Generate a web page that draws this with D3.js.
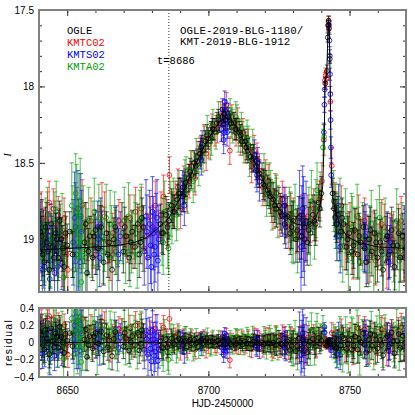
<!DOCTYPE html>
<html><head><meta charset="utf-8">
<script src="https://cdn.jsdelivr.net/npm/d3@7"></script>
<style>body{margin:0;background:#fff}svg{display:block}</style>
</head><body>
<svg id="c" width="415" height="415"></svg>
<script>
// ---- data: [HJD-2450000, I mag, error] ----
const kmtc = [
[8640.3,18.90,0.14],[8641.2,18.86,0.12],[8642.1,19.02,0.13],[8643.0,18.84,0.15],[8644.2,18.95,0.12],
[8645.1,18.80,0.13],[8646.3,19.08,0.14],[8647.2,18.92,0.12],[8648.4,19.15,0.16],[8649.3,18.98,0.13],
[8650.2,19.20,0.15],[8652.3,18.95,0.15],[8653.4,18.82,0.16],[8654.2,19.05,0.14],[8655.3,18.78,0.17],
[8657.2,19.00,0.14],[8658.4,18.88,0.15],[8660.1,19.10,0.13],[8661.3,18.92,0.14],[8663.2,18.85,0.16],
[8664.4,19.02,0.14],[8666.1,18.96,0.13],[8667.3,19.08,0.15],[8669.2,18.90,0.14],[8670.4,18.98,0.12],
[8672.2,18.86,0.15],[8673.3,19.05,0.14],[8675.1,18.92,0.13],[8676.3,18.80,0.14],[8678.2,18.98,0.15],
[8679.4,18.85,0.13],[8681.2,18.78,0.16],[8682.3,18.96,0.15],[8684.1,18.72,0.14],[8685.3,18.90,0.16],
[8686.2,18.58,0.12],[8687.3,18.80,0.11],[8688.2,18.72,0.10],[8690.1,18.80,0.13],[8691.3,18.62,0.10],
[8692.2,18.70,0.12],[8694.1,18.52,0.10],[8695.3,18.60,0.11],[8697.2,18.42,0.09],[8698.4,18.35,0.10],
[8700.1,18.38,0.09],[8701.3,18.26,0.08],[8703.2,18.28,0.09],[8704.4,18.18,0.08],[8705.3,18.25,0.10],
[8706.4,18.12,0.08],[8707.6,18.42,0.09],[8708.3,18.20,0.08],[8709.2,18.26,0.09],[8710.4,18.22,0.08],
[8711.3,18.35,0.10],[8712.2,18.30,0.09],[8714.1,18.38,0.10],[8715.3,18.52,0.11],[8716.2,18.42,0.10],
[8718.1,18.55,0.11],[8719.3,18.66,0.12],[8721.2,18.62,0.11],[8722.4,18.76,0.13],[8724.1,18.70,0.12],
[8725.3,18.85,0.13],[8727.2,18.78,0.12],[8728.3,18.92,0.14],[8730.1,18.86,0.13],[8731.3,18.95,0.14],
[8733.2,18.84,0.13],[8734.4,19.00,0.15],[8736.1,18.88,0.14],[8737.3,18.80,0.13],[8738.2,18.86,0.15],
[8739.4,18.74,0.12],[8740.2,18.62,0.12],[8740.9,18.35,0.10],[8741.3,17.96,0.05],[8741.5,17.93,0.05],
[8741.8,17.95,0.05],[8742.5,17.60,0.04],[8742.6,17.58,0.04],[8743.2,18.10,0.06],[8743.7,18.52,0.12],
[8745.2,18.82,0.13],[8746.3,18.95,0.14],[8747.1,18.78,0.13],[8748.4,19.05,0.15],[8750.2,18.90,0.14],
[8751.3,19.10,0.16],[8752.2,18.95,0.15],[8754.1,19.02,0.14],[8755.3,18.88,0.15],[8757.2,19.12,0.16],
[8758.3,18.96,0.14],[8760.1,19.05,0.15],[8761.4,18.90,0.16],[8763.2,19.15,0.17],[8764.3,18.98,0.15],
[8766.1,19.08,0.16],[8767.3,18.92,0.15],[8769.2,19.10,0.17],
[8640.8,18.82,0.13],[8641.7,18.94,0.14],[8642.6,18.88,0.12],[8643.6,18.76,0.14],[8644.7,19.06,0.13],
[8645.7,18.90,0.15],[8646.8,18.84,0.12],[8647.8,19.00,0.14],[8648.9,18.86,0.13],[8649.8,19.10,0.15],
[8656.3,18.92,0.16],[8659.2,19.04,0.15],[8662.3,18.80,0.17],[8665.2,19.12,0.15],[8668.3,18.88,0.14],
[8671.3,19.00,0.15],[8674.2,18.82,0.16],[8677.2,19.06,0.15],[8680.3,18.92,0.14],[8683.2,18.84,0.15],
[8689.2,18.66,0.12],[8693.2,18.62,0.11],[8696.3,18.46,0.10],[8699.2,18.44,0.11],[8702.3,18.30,0.09],
[8705.9,18.20,0.09],[8709.8,18.30,0.09],[8713.2,18.40,0.10],[8717.2,18.48,0.11],[8720.3,18.60,0.12],
[8723.2,18.80,0.13],[8726.2,18.74,0.12],[8729.2,18.84,0.14],[8732.2,18.98,0.15],[8735.2,18.85,0.14],
[8744.8,18.76,0.13],[8749.3,18.98,0.15],[8753.2,18.86,0.15],[8756.2,19.00,0.16],[8759.2,19.14,0.16],
[8762.3,18.92,0.15],[8765.2,19.00,0.16],[8768.3,18.88,0.16]
];
const kmts = [
[8640.4,19.02,0.16],[8640.9,19.12,0.15],[8641.5,18.95,0.14],[8642.0,19.18,0.17],[8642.6,19.05,0.15],
[8643.4,18.98,0.16],[8644.0,19.14,0.18],[8644.7,19.00,0.15],[8645.5,19.22,0.17],[8646.2,19.08,0.16],
[8647.0,18.96,0.15],[8648.1,19.16,0.17],[8652.1,19.02,0.28],[8652.6,18.86,0.30],[8653.2,19.10,0.26],
[8653.8,18.80,0.25],[8654.5,19.15,0.30],[8655.1,18.95,0.27],[8660.2,19.05,0.18],[8660.8,18.92,0.17],
[8661.5,19.12,0.19],[8662.2,18.98,0.16],[8667.4,18.94,0.16],[8668.1,19.10,0.17],[8668.8,18.98,0.16],
[8677.3,19.08,0.22],[8677.9,18.85,0.24],[8678.6,19.12,0.25],[8679.2,18.90,0.22],[8679.8,19.18,0.26],
[8680.5,18.96,0.24],[8681.1,19.05,0.23],[8681.8,18.86,0.25],[8682.4,19.00,0.22],[8690.3,18.72,0.12],
[8690.9,18.66,0.11],[8691.5,18.78,0.13],[8697.2,18.44,0.10],[8697.8,18.38,0.09],[8704.6,18.28,0.08],
[8705.0,18.15,0.07],[8705.4,18.35,0.09],[8705.8,18.10,0.07],[8706.2,18.22,0.08],[8706.6,18.30,0.09],
[8707.0,18.18,0.07],[8716.3,18.45,0.10],[8716.9,18.55,0.11],[8717.5,18.50,0.10],[8718.1,18.62,0.13],
[8726.2,18.85,0.13],[8726.8,18.78,0.12],[8727.4,18.92,0.14],[8732.3,18.85,0.30],[8732.8,19.05,0.32],
[8733.4,18.80,0.28],[8734.0,19.00,0.30],[8734.6,18.88,0.26],[8740.9,18.30,0.06],[8741.1,18.12,0.05],
[8741.2,18.02,0.05],[8742.7,17.60,0.03],[8742.9,17.70,0.04],[8743.0,17.80,0.04],[8743.1,17.92,0.04],
[8743.2,18.05,0.05],[8743.3,18.22,0.06],[8743.4,18.40,0.07],[8743.5,18.58,0.08],[8745.0,18.85,0.15],
[8745.5,18.98,0.16],[8746.1,18.78,0.14],[8746.7,19.05,0.17],[8755.2,19.05,0.16],[8755.8,18.92,0.15],
[8756.4,19.12,0.17],[8763.3,18.98,0.16],[8763.9,19.15,0.18],[8764.5,19.02,0.16],[8769.4,18.95,0.17],
[8640.6,18.90,0.16],[8641.2,19.20,0.17],[8641.8,19.06,0.15],[8643.0,18.92,0.16],[8643.8,19.26,0.18],
[8645.0,19.04,0.16],[8645.9,18.94,0.15],[8646.6,19.18,0.17],[8647.5,19.02,0.16],[8652.9,18.92,0.29],
[8654.0,19.05,0.31],[8654.8,18.85,0.28],[8661.0,19.00,0.18],[8661.9,18.90,0.17],[8667.9,19.02,0.16],
[8678.2,18.95,0.24],[8679.5,19.04,0.25],[8680.2,18.82,0.23],[8680.8,19.10,0.26],[8681.5,18.94,0.24],
[8682.1,19.14,0.25],[8691.2,18.70,0.12],[8697.5,18.48,0.10],[8705.2,18.24,0.08],[8705.6,18.30,0.08],
[8706.0,18.16,0.07],[8706.8,18.26,0.08],[8717.2,18.58,0.11],[8727.1,18.84,0.13],[8733.1,18.95,0.30],
[8733.7,18.90,0.31],[8745.3,18.90,0.16],[8746.4,18.98,0.16],[8755.5,18.98,0.16],[8764.2,19.08,0.17]
];
const kmta = [
[8640.7,18.98,0.18],[8641.6,19.12,0.20],[8642.4,18.90,0.17],[8643.5,19.20,0.22],[8644.5,19.02,0.18],
[8645.6,18.88,0.19],[8646.6,19.15,0.20],[8647.6,18.95,0.18],[8648.7,19.25,0.22],[8649.6,19.05,0.20],
[8651.6,18.78,0.28],[8652.4,19.20,0.30],[8653.0,18.70,0.26],[8653.6,19.10,0.32],[8654.3,18.85,0.28],
[8655.0,19.28,0.30],[8655.7,18.92,0.27],[8656.5,19.12,0.25],[8657.6,18.88,0.22],[8658.6,19.05,0.20],
[8659.6,18.82,0.22],[8660.6,19.18,0.24],[8661.8,18.95,0.20],[8662.7,19.08,0.21],[8663.8,18.86,0.22],
[8664.8,19.12,0.23],[8665.7,18.98,0.20],[8666.8,18.90,0.21],[8667.8,19.15,0.22],[8669.6,18.96,0.20],
[8670.7,19.08,0.21],[8671.7,18.85,0.22],[8672.8,19.02,0.20],[8673.7,18.92,0.21],[8674.8,19.10,0.22],
[8675.7,18.88,0.20],[8676.8,19.00,0.21],[8683.6,18.95,0.22],[8684.5,18.82,0.20],[8685.6,18.98,0.21],
[8685.9,19.06,0.17],[8686.7,18.80,0.18],[8687.6,18.76,0.16],[8688.7,18.84,0.17],[8689.6,18.70,0.15],
[8691.7,18.62,0.14],[8692.6,18.68,0.15],[8693.7,18.55,0.13],[8694.6,18.62,0.14],[8695.7,18.46,0.12],
[8696.6,18.52,0.13],[8698.7,18.38,0.12],[8699.6,18.30,0.11],[8700.7,18.36,0.12],[8701.6,18.25,0.10],
[8702.7,18.30,0.11],[8703.6,18.20,0.10],[8707.7,18.18,0.10],[8708.6,18.26,0.11],[8709.7,18.20,0.10],
[8710.6,18.32,0.11],[8711.7,18.28,0.11],[8712.6,18.38,0.12],[8713.7,18.34,0.12],[8714.6,18.46,0.13],
[8715.7,18.40,0.12],[8719.7,18.58,0.14],[8720.6,18.70,0.15],[8721.7,18.64,0.14],[8722.6,18.78,0.16],
[8723.7,18.72,0.15],[8724.6,18.82,0.17],[8728.7,18.84,0.18],[8729.6,18.95,0.20],[8730.7,18.82,0.18],
[8731.6,19.00,0.22],[8735.6,18.88,0.22],[8736.5,18.75,0.20],[8737.6,18.92,0.21],[8738.5,18.68,0.18],
[8739.6,18.72,0.16],[8740.6,18.40,0.12],[8741.0,18.33,0.08],[8744.4,18.75,0.20],[8745.6,18.92,0.22],
[8746.6,18.80,0.20],[8747.6,19.05,0.23],[8748.6,18.88,0.21],[8749.6,19.10,0.24],[8750.7,18.92,0.22],
[8751.6,19.02,0.23],[8752.7,18.85,0.21],[8753.6,19.15,0.25],[8754.6,18.98,0.22],[8756.8,19.08,0.23],
[8757.7,18.90,0.22],[8758.6,19.12,0.24],[8759.7,18.96,0.22],[8760.6,18.86,0.21],[8761.7,19.10,0.24],
[8762.6,18.95,0.22],[8765.6,19.05,0.23],[8766.7,18.88,0.21],[8767.6,19.14,0.24],[8768.6,18.98,0.22],
[8769.7,19.02,0.23],
[8641.1,18.94,0.19],[8642.0,19.08,0.20],[8643.0,18.84,0.18],[8644.0,19.10,0.21],[8645.1,18.98,0.19],
[8646.1,18.82,0.20],[8647.1,19.06,0.19],[8648.2,18.90,0.20],[8649.1,19.14,0.21],[8652.0,18.95,0.30],
[8653.3,18.82,0.31],[8654.0,19.02,0.29],[8654.6,18.75,0.28],[8655.4,19.08,0.30],[8657.1,19.02,0.22],
[8659.1,18.96,0.21],[8661.2,18.86,0.22],[8663.2,19.00,0.21],[8665.2,18.90,0.22],[8667.2,19.02,0.21],
[8670.2,18.88,0.22],[8672.2,19.10,0.21],[8674.2,18.96,0.20],[8676.2,18.86,0.22],[8684.0,19.02,0.21],
[8687.1,18.86,0.17],[8689.1,18.78,0.16],[8692.1,18.60,0.14],[8695.1,18.56,0.13],[8698.1,18.44,0.12],
[8701.1,18.34,0.11],[8708.1,18.24,0.10],[8710.1,18.22,0.10],[8712.1,18.34,0.11],[8714.1,18.38,0.12],
[8720.1,18.64,0.14],[8722.1,18.70,0.15],[8724.1,18.76,0.16],[8729.1,18.88,0.19],[8730.1,18.96,0.20],
[8736.1,18.96,0.21],[8738.1,18.80,0.19],[8745.1,18.85,0.21],[8747.1,18.96,0.22],[8749.1,19.00,0.23],
[8751.1,18.94,0.22],[8753.1,19.02,0.23],[8757.1,19.00,0.22],[8759.1,19.06,0.23],[8761.1,18.98,0.22],
[8766.1,19.10,0.23],[8768.1,19.06,0.22]
];
const ogle = [
[8640.1,19.08,0.14],[8641.0,18.98,0.13],[8641.9,19.15,0.15],[8642.8,19.02,0.13],[8643.7,19.20,0.16],
[8644.8,19.05,0.14],[8645.9,18.96,0.13],[8646.8,19.12,0.15],[8647.9,19.00,0.14],[8648.9,19.18,0.16],
[8650.0,19.04,0.14],[8650.9,18.95,0.13],[8651.9,19.10,0.15],[8656.1,19.02,0.14],[8657.0,19.22,0.16],
[8658.0,18.98,0.13],[8659.0,19.12,0.15],[8660.0,18.94,0.13],[8661.0,19.06,0.14],[8662.9,19.15,0.15],
[8663.9,18.96,0.14],[8664.9,19.02,0.13],[8665.9,19.20,0.16],[8667.0,18.92,0.13],[8669.9,19.08,0.14],
[8670.9,18.98,0.13],[8671.9,19.12,0.15],[8673.0,18.95,0.14],[8674.0,19.05,0.14],[8675.0,18.90,0.13],
[8676.0,19.02,0.14],[8677.0,18.92,0.14],[8683.0,18.90,0.13],[8684.0,18.96,0.14],[8685.0,18.84,0.12],
[8686.0,18.88,0.12],[8687.0,18.78,0.11],[8688.0,18.82,0.11],[8689.0,18.74,0.10],[8690.0,18.70,0.10],
[8691.0,18.72,0.10],[8692.0,18.63,0.09],[8693.0,18.60,0.09],[8694.0,18.58,0.09],[8695.0,18.50,0.08],
[8696.0,18.49,0.08],[8697.0,18.44,0.08],[8698.0,18.42,0.08],[8699.0,18.36,0.07],[8700.0,18.34,0.07],
[8701.0,18.30,0.07],[8702.0,18.28,0.07],[8703.0,18.24,0.07],[8704.0,18.24,0.06],[8705.0,18.20,0.06],
[8706.0,18.22,0.06],[8707.0,18.20,0.06],[8708.0,18.24,0.06],[8709.0,18.24,0.07],[8710.0,18.28,0.07],
[8711.0,18.30,0.07],[8712.0,18.36,0.07],[8713.0,18.36,0.08],[8714.0,18.42,0.08],[8715.0,18.46,0.08],
[8716.0,18.47,0.09],[8717.0,18.52,0.09],[8718.0,18.57,0.09],[8719.0,18.60,0.10],[8720.0,18.65,0.10],
[8721.0,18.68,0.10],[8722.0,18.72,0.11],[8723.0,18.74,0.11],[8724.0,18.80,0.12],[8725.0,18.78,0.12],
[8726.0,18.84,0.12],[8727.0,18.90,0.13],[8728.0,18.85,0.13],[8729.0,18.96,0.14],[8730.0,18.88,0.13],
[8731.0,19.00,0.15],[8732.0,18.86,0.14],[8733.0,18.98,0.15],[8734.0,18.92,0.14],[8735.0,19.02,0.15],
[8736.0,18.90,0.14],[8737.0,18.84,0.13],[8738.0,18.90,0.14],[8739.0,18.76,0.12],[8740.0,18.70,0.11],
[8741.4,17.98,0.04],[8742.0,17.90,0.04],[8742.3,17.68,0.03],[8742.45,17.60,0.03],[8742.6,17.57,0.03],
[8742.75,17.62,0.03],[8743.0,17.82,0.03],[8744.0,18.70,0.10],[8744.9,18.86,0.12],[8745.9,18.84,0.12],
[8746.9,18.95,0.13],[8747.9,18.90,0.13],[8748.9,19.05,0.15],[8749.9,18.96,0.14],[8750.9,19.08,0.15],
[8751.9,18.94,0.14],[8752.9,19.10,0.16],[8753.9,19.02,0.15],[8754.9,18.92,0.14],[8755.9,19.15,0.16],
[8756.9,19.00,0.15],[8757.9,19.08,0.16],[8758.9,18.96,0.15],[8759.9,19.12,0.16],[8760.9,19.02,0.15],
[8761.9,19.20,0.17],[8762.9,19.00,0.15],[8763.9,19.10,0.16],[8764.9,18.94,0.15],[8765.9,19.18,0.17],
[8766.9,19.04,0.16],[8767.9,19.12,0.16],[8768.9,18.98,0.15],[8769.9,19.06,0.16],
[8640.5,18.95,0.13],[8641.4,19.10,0.14],[8642.3,18.92,0.13],[8643.2,19.08,0.15],[8644.3,18.90,0.13],
[8645.3,19.12,0.15],[8646.3,19.00,0.14],[8647.3,18.88,0.13],[8648.4,19.06,0.15],[8649.4,18.96,0.14],
[8656.6,18.90,0.14],[8657.5,19.08,0.15],[8659.5,18.98,0.14],[8662.0,18.92,0.14],[8664.4,19.10,0.15],
[8666.5,19.00,0.14],[8670.4,18.92,0.13],[8672.5,19.02,0.14],[8675.5,19.10,0.15],[8676.5,18.86,0.13],
[8683.5,18.96,0.13],[8685.5,18.92,0.12],[8687.5,18.82,0.11],[8689.5,18.70,0.10],[8691.5,18.66,0.10],
[8693.5,18.56,0.09],[8695.5,18.52,0.08],[8697.5,18.40,0.08],[8699.5,18.32,0.07],[8701.5,18.28,0.07],
[8703.5,18.22,0.07],[8705.5,18.18,0.06],[8707.5,18.22,0.06],[8709.5,18.28,0.07],[8711.5,18.32,0.07],
[8713.5,18.40,0.08],[8715.5,18.48,0.08],[8717.5,18.55,0.09],[8719.5,18.64,0.10],[8721.5,18.70,0.10],
[8723.5,18.78,0.11],[8725.5,18.82,0.12],[8727.5,18.86,0.13],[8729.5,18.92,0.14],[8731.5,18.94,0.14],
[8733.5,18.88,0.15],[8735.5,18.94,0.15],[8737.5,18.88,0.13],[8739.5,18.80,0.12],[8744.5,18.80,0.11],
[8745.4,18.90,0.12],[8747.4,18.86,0.13],[8749.4,19.00,0.15],[8751.4,19.04,0.15],[8753.4,18.98,0.15],
[8755.4,19.06,0.16],[8757.4,18.94,0.15],[8759.4,19.02,0.16],[8761.4,19.08,0.16],[8763.4,18.98,0.15],
[8765.4,19.04,0.16],[8767.4,18.96,0.16],[8769.4,19.12,0.16]
];
// model light curve [HJD-2450000, I]
const model = [
[8640,19.07],[8650,19.06],[8660,19.05],[8668,19.04],[8674,19.02],[8678,18.99],[8682,18.93],[8686,18.86],
[8690,18.73],[8694,18.57],[8698,18.41],[8702,18.28],[8704,18.23],[8706,18.20],[8708,18.22],[8710,18.27],
[8713,18.37],[8716,18.48],[8719,18.60],[8722,18.71],[8725,18.80],[8728,18.86],[8731,18.90],[8734,18.91],
[8736,18.905],[8738,18.86],[8739.5,18.79],[8740.5,18.65],[8741.1,18.30],[8741.3,17.97],[8741.9,17.92],
[8742.2,17.75],[8742.5,17.58],[8742.8,17.62],[8743.0,17.80],[8743.2,18.05],[8743.4,18.38],[8743.6,18.60],
[8744,18.72],[8745,18.82],[8747,18.92],[8749,18.98],[8753,19.02],[8760,19.05],[8770,19.06]
];
const seriesNames = ["OGLE","KMTC02","KMTS02","KMTA02"];
const seriesColors = ["#000000","#ff0000","#0000ff","#00a000"];
const xTicks = [8650,8700,8750];
const yTicksMain = [17.5,18,18.5,19];
const yTicksRes = [0.4,0.2,0,-0.2,-0.4];
const marker = 8686;
const title = ["OGLE-2019-BLG-1180/","KMT-2019-BLG-1912"];

// ---- drawing ----
const svg = d3.select("#c");
const L=39, R=406, T=10, B=292, RT=308, RB=377;
const x = d3.scaleLinear().domain([8640,8770]).range([L,R]);
const y = d3.scaleLinear().domain([17.5,19.345]).range([T,B]);
const yr = d3.scaleLinear().domain([0.4,-0.4]).range([RT,RB]);

const defs = svg.append("defs");
defs.append("clipPath").attr("id","cm").append("rect").attr("x",L).attr("y",T).attr("width",R-L).attr("height",B-T);
defs.append("clipPath").attr("id","cr").append("rect").attr("x",L).attr("y",RT).attr("width",R-L).attr("height",RB-RT);

function modelAt(t){
  for(let i=0;i<model.length-1;i++){
    const a=model[i], b=model[i+1];
    if(t>=a[0]&&t<=b[0]) return a[1]+(b[1]-a[1])*(t-a[0])/(b[0]-a[0]);
  }
  return model[model.length-1][1];
}

const datasets = [
  {d:kmtc,c:seriesColors[1]},
  {d:kmts,c:seriesColors[2]},
  {d:kmta,c:seriesColors[3]},
  {d:ogle,c:seriesColors[0]}
];

const gm = svg.append("g").attr("clip-path","url(#cm)");
const gr = svg.append("g").attr("clip-path","url(#cr)");

function drawSet(g, pts, c, ys){
  const s = g.append("g");
  const eb = s.append("g").attr("stroke",c).attr("stroke-opacity",0.6).attr("stroke-width",1.1);
  pts.forEach(p=>{
    const px=x(p[0]), y1=ys(p[1]-p[2]), y2=ys(p[1]+p[2]);
    eb.append("line").attr("x1",px).attr("x2",px).attr("y1",y1).attr("y2",y2);
    eb.append("line").attr("x1",px-2.2).attr("x2",px+2.2).attr("y1",y1).attr("y2",y1);
    eb.append("line").attr("x1",px-2.2).attr("x2",px+2.2).attr("y1",y2).attr("y2",y2);
  });
  s.append("g").selectAll("circle").data(pts).join("circle")
    .attr("cx",p=>x(p[0])).attr("cy",p=>ys(p[1])).attr("r",2.4)
    .attr("fill","none").attr("stroke",c).attr("stroke-opacity",0.8).attr("stroke-width",1);
}

datasets.forEach(ds=>{
  drawSet(gm, ds.d, ds.c, y);
  const res = ds.d.map(p=>[p[0], modelAt(p[0])-p[1], p[2]]);
  drawSet(gr, res, ds.c, v=>yr(v));
});

gm.append("path").datum(model).attr("fill","none").attr("stroke","#000").attr("stroke-width",1)
  .attr("d", d3.line().x(d=>x(d[0])).y(d=>y(d[1])));
gr.append("line").attr("x1",L).attr("x2",R).attr("y1",yr(0)).attr("y2",yr(0)).attr("stroke","#000").attr("stroke-width",1);

// marker line
svg.append("line").attr("x1",x(marker)).attr("x2",x(marker)).attr("y1",T).attr("y2",B)
  .attr("stroke","#000").attr("stroke-width",0.8).attr("stroke-dasharray","1,2");

// axes helpers
function ax(gen, tr){ const g=svg.append("g").attr("transform",tr).call(gen); g.select(".domain").remove();
  g.selectAll(".tick line").attr("stroke","#333"); return g; }
const minorX = d3.range(8640,8771,10);
const lab = "Liberation Sans, Arial, sans-serif";

// main panel
ax(d3.axisBottom(x).tickValues(minorX).tickSize(-3).tickFormat(""),`translate(0,${B})`);
ax(d3.axisBottom(x).tickValues(xTicks).tickSize(-6).tickFormat(""),`translate(0,${B})`);
ax(d3.axisTop(x).tickValues(minorX).tickSize(-3).tickFormat(""),`translate(0,${T})`);
ax(d3.axisTop(x).tickValues(xTicks).tickSize(-6).tickFormat(""),`translate(0,${T})`);
const minorY = d3.range(17.5,19.35,0.1);
ax(d3.axisLeft(y).tickValues(minorY).tickSize(-3).tickFormat(""),`translate(${L},0)`);
const yl = ax(d3.axisLeft(y).tickValues(yTicksMain).tickSize(-6).tickPadding(5).tickFormat(d3.format("")),`translate(${L},0)`);
yl.selectAll("text").attr("font-family",lab).attr("font-size",10).attr("fill","#000");
ax(d3.axisRight(y).tickValues(minorY).tickSize(-3).tickFormat(""),`translate(${R},0)`);
ax(d3.axisRight(y).tickValues(yTicksMain).tickSize(-6).tickFormat(""),`translate(${R},0)`);

// residual panel
ax(d3.axisTop(x).tickValues(minorX).tickSize(-3).tickFormat(""),`translate(0,${RT})`);
ax(d3.axisTop(x).tickValues(xTicks).tickSize(-6).tickFormat(""),`translate(0,${RT})`);
ax(d3.axisBottom(x).tickValues(minorX).tickSize(-3).tickFormat(""),`translate(0,${RB})`);
const xl = ax(d3.axisBottom(x).tickValues(xTicks).tickSize(-6).tickPadding(10).tickFormat(d3.format("")),`translate(0,${RB})`);
xl.selectAll("text").attr("font-family",lab).attr("font-size",10).attr("fill","#000");
const minorR = d3.range(-0.4,0.41,0.1);
ax(d3.axisLeft(yr).tickValues(minorR).tickSize(-3).tickFormat(""),`translate(${L},0)`);
const rl = ax(d3.axisLeft(yr).tickValues(yTicksRes).tickSize(-6).tickPadding(5).tickFormat(d3.format("")),`translate(${L},0)`);
rl.selectAll("text").attr("font-family",lab).attr("font-size",10).attr("fill","#000");
ax(d3.axisRight(yr).tickValues(minorR).tickSize(-3).tickFormat(""),`translate(${R},0)`);
ax(d3.axisRight(yr).tickValues(yTicksRes).tickSize(-6).tickFormat(""),`translate(${R},0)`);

// frames
svg.append("rect").attr("x",L).attr("y",T).attr("width",R-L).attr("height",B-T).attr("fill","none").attr("stroke","#808080").attr("stroke-width",2);
svg.append("rect").attr("x",L).attr("y",RT).attr("width",R-L).attr("height",RB-RT).attr("fill","none").attr("stroke","#808080").attr("stroke-width",2);

// labels
svg.append("text").attr("x",(L+R)/2).attr("y",407).attr("text-anchor","middle").attr("font-family",lab).attr("font-size",10).text("HJD-2450000");
svg.append("text").attr("transform",`translate(12,${(RT+RB)/2}) rotate(-90)`).attr("text-anchor","middle")
  .attr("font-family",lab).attr("font-size",10.5).attr("letter-spacing","1.3px").text("residual");
svg.append("text").attr("transform",`translate(11,155) rotate(-90)`).attr("text-anchor","middle")
  .attr("font-family","Liberation Serif, serif").attr("font-style","italic").attr("font-size",11).text("I");

const mono = "Liberation Mono, DejaVu Sans Mono, monospace";
seriesNames.forEach((n,i)=>{
  svg.append("text").attr("x",67).attr("y",33.5+i*12.2).attr("font-family",mono).attr("font-size",10.5)
    .attr("fill",seriesColors[i]).text(n);
});
title.forEach((t,i)=>{
  svg.append("text").attr("x",180).attr("y",33.5+i*11.7).attr("font-family",mono).attr("font-size",10.8).attr("fill","#000").text(t);
});
svg.append("text").attr("x",157).attr("y",64).attr("font-family",mono).attr("font-size",10.5).attr("fill","#000").text("t="+marker);
</script>
</body></html>
